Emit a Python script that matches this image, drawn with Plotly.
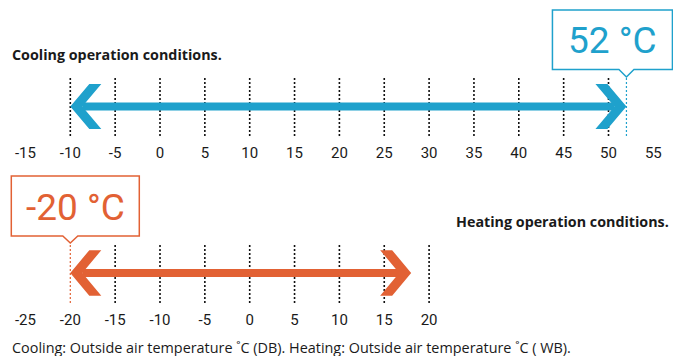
import plotly.graph_objects as go

# ---------------- data ----------------
cooling_range = [-10, 52]
heating_range = [-20, 18]
cooling_ticks = [-15, -10, -5, 0, 5, 10, 15, 20, 25, 30, 35, 40, 45, 50, 55]
heating_ticks = [-25, -20, -15, -10, -5, 0, 5, 10, 15, 20]
cooling_grid = [-10, -5, 0, 5, 10, 15, 20, 25, 30, 35, 40, 45, 50]
heating_grid = [-15, -10, -5, 0, 5, 10, 15, 20]
cooling_limit = 52
heating_limit = -20
cooling_label = "52 °C"
heating_label = "-20 °C"
cooling_title = "Cooling operation conditions."
heating_title = "Heating operation conditions."
footer = "Cooling: Outside air temperature ˚C (DB). Heating: Outside air temperature ˚C ( WB)."

# ---------------- style ----------------
W, H = 673, 356
BLUE = "#1fa1cc"
ORANGE = "#e26134"
DARK = "#1a1a1a"
FONT = "Roboto"
SMALL_FONT = "Open Sans"
S = 8.97            # px per degree
X0_TOP = 160        # pixel of 0 on top axis
X0_BOT = X0_TOP + 10 * S

def py(p):  # pixel y -> paper
    return 1 - p / H

top_range = [-X0_TOP / S, (W - X0_TOP) / S]
bot_range = [-X0_BOT / S, (W - X0_BOT) / S]

fig = go.Figure()

def arrow(lo, hi, color, xa, ya):
    h = 0.76
    outer, back, notch = 19 / S, 31 / S, 12 / S
    fig.add_trace(go.Scatter(x=[lo + notch, hi - notch], y=[0, 0], mode="lines",
                             line=dict(color=color, width=8), xaxis=xa, yaxis=ya,
                             hoverinfo="skip", showlegend=False))
    lx = [lo, lo + outer, lo + back, lo + notch, lo + back, lo + outer, lo]
    ly = [0, h, h, 0, -h, -h, 0]
    rx = [hi, hi - outer, hi - back, hi - notch, hi - back, hi - outer, hi]
    for cx in (lx, rx):
        fig.add_trace(go.Scatter(x=cx, y=ly, mode="lines", fill="toself", fillcolor=color,
                                 line=dict(width=0, color=color), xaxis=xa, yaxis=ya,
                                 hoverinfo="skip", showlegend=False))

arrow(cooling_range[0], cooling_range[1], BLUE, "x", "y")
arrow(heating_range[0], heating_range[1], ORANGE, "x2", "y2")

shapes = []
for v in cooling_grid:
    shapes.append(dict(type="line", xref="x", yref="y", x0=v, x1=v, y0=-1, y1=1,
                       line=dict(color="#111111", width=1.6, dash="2px,2px"), layer="below"))
for v in heating_grid:
    shapes.append(dict(type="line", xref="x2", yref="y2", x0=v, x1=v, y0=-1, y1=1,
                       line=dict(color="#111111", width=1.6, dash="2px,2px"), layer="below"))
shapes.append(dict(type="line", xref="x", yref="y", x0=cooling_limit, x1=cooling_limit, y0=-1, y1=1,
                   line=dict(color=BLUE, width=1.2, dash="2px,2px"), layer="below"))
shapes.append(dict(type="line", xref="x2", yref="y2", x0=heating_limit, x1=heating_limit, y0=-1, y1=1,
                   line=dict(color=ORANGE, width=1.2, dash="2px,2px"), layer="below"))

def callout(xref, val, left_px, right_px, top_px, bot_px, tip_px, color, text):
    x0 = val - left_px / S
    x1 = val + right_px / S
    nw = 7.5 / S
    yt, yb, ytip = py(top_px), py(bot_px), py(tip_px)
    path = (f"M {x0},{yt} L {x1},{yt} L {x1},{yb} L {val + nw},{yb} L {val},{ytip} "
            f"L {val - nw},{yb} L {x0},{yb} Z")
    shapes.append(dict(type="path", xref=xref, yref="paper", path=path,
                       fillcolor="white", line=dict(color=color, width=1.5)))
    fig.add_annotation(x=(x0 + x1) / 2, y=py((top_px + bot_px) / 2 + 1), xref=xref, yref="paper",
                       text=text, showarrow=False, font=dict(family=FONT, size=37, color=color),
                       xanchor="center", yanchor="middle")

callout("x", cooling_limit, 74, 46, 10, 69.5, 77, BLUE, cooling_label)
callout("x2", heating_limit, 59, 69, 176, 236, 243, ORANGE, heating_label)

fig.add_annotation(x=10 / W, y=py(54), xref="paper", yref="paper", text="<b>" + cooling_title + "</b>",
                   showarrow=False, xanchor="left", yanchor="middle",
                   font=dict(family=SMALL_FONT, size=14.3, color=DARK))
fig.add_annotation(x=671 / W, y=py(221), xref="paper", yref="paper", text="<b>" + heating_title + "</b>",
                   showarrow=False, xanchor="right", yanchor="middle",
                   font=dict(family=SMALL_FONT, size=14.3, color=DARK))
fig.add_annotation(x=10 / W, y=py(347.5), xref="paper", yref="paper", text=footer,
                   showarrow=False, xanchor="left", yanchor="middle",
                   font=dict(family=SMALL_FONT, size=14.4, color=DARK))

axis_common = dict(showgrid=False, zeroline=False, showline=False, ticks="",
                   tickfont=dict(family=FONT, size=15, color=DARK), fixedrange=True)

fig.update_layout(
    width=W, height=H,
    margin=dict(l=0, r=0, t=0, b=0),
    paper_bgcolor="white", plot_bgcolor="white",
    showlegend=False,
    xaxis=dict(domain=[0, 1], range=top_range, anchor="y",
               tickmode="array", tickvals=cooling_ticks,
               ticktext=[str(t) for t in cooling_ticks], ticklabelstandoff=6, **axis_common),
    yaxis=dict(domain=[py(136), py(77)], range=[-1, 1], visible=False, fixedrange=True),
    xaxis2=dict(domain=[0, 1], range=bot_range, anchor="y2",
                tickmode="array", tickvals=heating_ticks,
                ticktext=[str(t) for t in heating_ticks], ticklabelstandoff=6, **axis_common),
    yaxis2=dict(domain=[py(303), py(243)], range=[-1, 1], visible=False, fixedrange=True),
    shapes=shapes,
)

fig.write_html("out.html", config={"staticPlot": True},
               post_script="document.body.style.margin='0';document.body.style.overflow='hidden';")
